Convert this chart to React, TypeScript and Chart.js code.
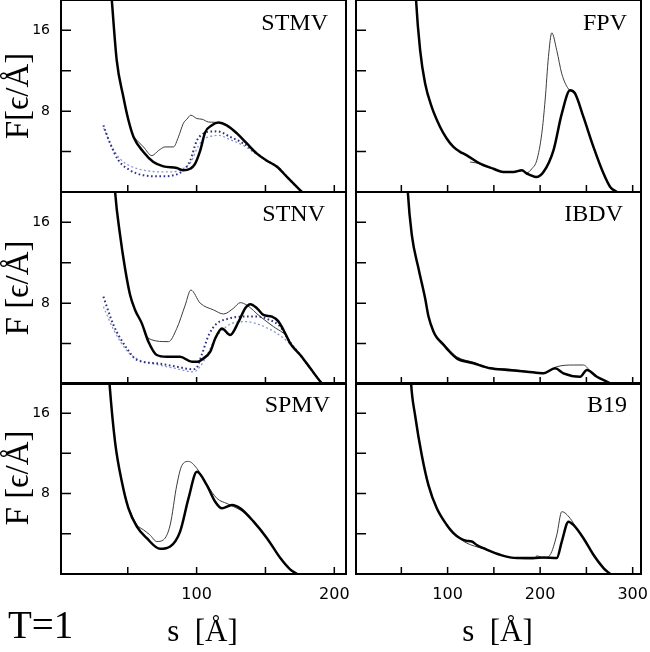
import React, { useEffect, useRef } from "react";
import { Chart, registerables } from "chart.js";

Chart.register(...registerables);

// ---------------- data (s in Å, F in ε/Å) ----------------
// STMV
const stmvThickS = [37, 38.4, 42, 46.8, 50.5, 54.2, 61.4, 68.6, 75.9, 85.6, 90.4, 95.3, 98.5, 102.6, 106.2, 111.1, 115.9, 121.9, 129.3, 136.5, 143.8, 151, 158.4, 165.6, 171.7, 176.5];
const stmvThickF = [21.5, 19, 13, 9.4, 7.1, 5.45, 3.96, 2.97, 2.54, 2.38, 2.15, 2.3, 2.7, 4.1, 5.9, 6.6, 6.87, 6.6, 5.8, 4.8, 3.8, 3.1, 2.5, 1.5, 0.66, 0];
const stmvThinS = [54.2, 61.4, 67.5, 72.3, 77.1, 83.2, 86.8, 90.4, 92.9, 95.8, 100.2, 104, 108.6, 113, 116];
const stmvThinF = [5.45, 4.46, 3.6, 4.1, 4.46, 4.46, 5.45, 6.8, 7.2, 7.6, 7.27, 7.2, 6.93, 6.9, 6.87];
const stmvNavyS = [32.3, 37.2, 43.2, 51.7, 61.4, 73.5, 83.2, 90.4, 95.3, 100.2, 104, 108, 115, 124.4, 134.1, 143.8, 151, 158.4, 165.6, 172];
const stmvNavyF = [6.6, 4.8, 3.14, 2.15, 1.65, 1.55, 1.65, 2.15, 3.1, 5.1, 5.7, 5.95, 6.0, 5.45, 4.8, 3.8, 3.1, 2.5, 1.5, 0.6];
const stmvLightS = [32.5, 38, 45, 53, 62, 72, 82, 90, 96, 101, 105, 110, 116, 124, 134, 144, 151, 158.4, 165.6, 172];
const stmvLightF = [6.3, 4.6, 3.2, 2.5, 2.15, 2.0, 2.0, 2.3, 3.0, 4.5, 5.2, 5.5, 5.6, 5.2, 4.6, 3.7, 3.1, 2.5, 1.5, 0.6];

// STNV
const stnvThickS = [39.5, 40.8, 44.4, 48, 51.7, 55.3, 60.2, 65, 71.1, 78.4, 88, 96.6, 100.2, 105, 109.9, 113.5, 118.4, 124.4, 130.5, 135.3, 139, 143.8, 148.6, 154.7, 159.5, 164.4, 168.1, 175.3, 182.6, 189.9, 191.5];
const stnvThickF = [22, 19, 14.75, 11.45, 8.8, 7.33, 6.0, 4.19, 2.87, 2.7, 2.7, 2.2, 2.2, 2.54, 3.2, 4.5, 5.5, 4.85, 6.17, 7.5, 7.9, 7.5, 6.83, 6.67, 6.17, 5.0, 4.0, 2.87, 1.55, 0.23, 0];
const stnvThinS = [61, 63.8, 67, 71.1, 75, 79.6, 85.6, 91.7, 95.8, 102.6, 112.3, 119.6, 126.8, 131.7, 136.5, 146.2, 155.9, 165.6, 168.1];
const stnvThinF = [5.6, 4.7, 4.4, 4.25, 4.2, 4.19, 5.5, 7.8, 9.3, 8.0, 7.33, 6.93, 7.5, 8.05, 7.8, 6.67, 5.67, 4.68, 4.1];
const stnvNavyS = [32.3, 39.6, 49.3, 56.6, 71.1, 85.6, 97.7, 100.5, 104, 109, 114, 124, 134, 145, 152, 160.8, 166.8, 175, 182.6, 189.9];
const stnvNavyF = [8.64, 5.84, 3.53, 2.38, 2.05, 1.71, 1.45, 1.7, 3.0, 4.9, 5.9, 6.5, 6.67, 6.67, 6.4, 5.67, 4.36, 2.9, 1.55, 0.23];
const stnvLightS = [32.3, 40, 50, 58, 72, 86, 97.7, 103, 108, 114, 120, 125.7, 136.5, 146.2, 158.4, 166, 175, 182.6, 189.9];
const stnvLightF = [7.65, 5.3, 3.2, 2.4, 1.9, 1.5, 1.2, 1.8, 3.0, 4.6, 5.5, 6.0, 6.17, 5.84, 5.0, 4.2, 2.9, 1.55, 0.23];

// SPMV
const spmvThickS = [35.5, 36.7, 40.8, 45.7, 50.5, 56.6, 63.8, 73.5, 80.8, 88, 94.1, 100.2, 107.4, 113.5, 118.4, 125.7, 131.7, 141.4, 151.1, 160.8, 168.1, 172.9];
const spmvThickF = [21.5, 19, 13.1, 9.17, 6.53, 4.71, 3.56, 2.5, 2.73, 4.22, 7.52, 10.16, 8.84, 7.19, 6.53, 6.86, 6.53, 5.21, 3.56, 1.58, 0.43, 0];
const spmvThinS = [50.5, 56.6, 61.4, 66, 71.1, 75.9, 80.8, 85.6, 89.3, 94.1, 100.2, 107.4, 114.9, 122.2, 131.7, 136];
const spmvThinF = [6.6, 4.9, 4.39, 3.9, 3.23, 3.4, 4.88, 8.84, 10.8, 11.2, 10.5, 8.9, 7.5, 7.0, 6.37, 6.0];

// FPV
const fpvThickS = [64.5, 65.9, 70.3, 75.7, 82.9, 91.9, 99, 106.3, 113, 120.7, 135.1, 149.5, 160.3, 171.2, 180.2, 185.6, 195.7, 203.6, 214.4, 223.4, 232.4, 237.8, 246.8, 257.6, 268.5, 275.7, 282.9];
const fpvThickF = [22, 19, 14.03, 10.73, 8.4, 6.44, 5.3, 4.46, 4.0, 3.63, 2.8, 2.3, 1.98, 1.98, 2.15, 1.82, 1.49, 1.98, 4.13, 7.76, 10.07, 9.74, 7.43, 4.46, 1.82, 0.5, 0];
const fpvThinS = [124.3, 135.1, 149.5, 160.3, 171.2, 180.2, 185.6, 191, 196.4, 201.8, 205.4, 209, 212.6, 218, 223.4, 230.6, 239];
const fpvThinF = [2.97, 2.8, 2.3, 1.98, 1.98, 2.1, 1.9, 2.3, 3.14, 5.8, 9.1, 13.4, 15.75, 14.0, 11.7, 10.2, 9.8];

// IBDV
const ibdvThickS = [56, 57, 61.3, 68.5, 75.7, 79.3, 84.7, 88.3, 95.5, 99.1, 109.9, 128, 145.9, 164, 185.6, 203.6, 216.2, 225.2, 243.2, 250.5, 261.3, 275.7, 277];
const ibdvThickF = [21, 19, 14.75, 11.45, 8.48, 6.7, 5.2, 4.6, 3.9, 3.5, 2.54, 2.05, 1.55, 1.39, 1.22, 1.06, 1.55, 1.06, 0.72, 1.39, 0.72, 0.07, 0];
const ibdvThinS = [86.5, 95.5, 109.9, 128, 145.9, 164, 185.6, 203.6, 218, 236, 246.8, 255, 261.3];
const ibdvThinF = [4.8, 4.0, 2.7, 2.15, 1.6, 1.5, 1.25, 1.1, 1.71, 1.88, 1.88, 1.2, 0.72];

// B19
const b19ThickS = [59.5, 60.5, 64.9, 72.1, 79.3, 88.3, 99.1, 106, 113.5, 120, 126.1, 132, 138.7, 156.8, 174.8, 192.8, 203.6, 218, 223.4, 230.6, 236, 246.8, 257.6, 268.5, 275.7];
const b19ThickF = [21, 19, 15.77, 11.81, 8.84, 6.53, 4.88, 4.1, 3.56, 3.3, 3.23, 2.85, 2.57, 1.91, 1.58, 1.58, 1.64, 1.58, 3.23, 5.21, 4.88, 3.56, 1.91, 0.59, 0];
const b19ThinS = [99.1, 106, 113.5, 120, 138.7, 156.8, 174.8, 192.8, 196.5, 203.6, 210.8, 218, 223.4, 232.4, 240];
const b19ThinF = [4.88, 4.1, 3.5, 3.1, 2.5, 1.91, 1.55, 1.5, 1.8, 1.6, 1.91, 3.89, 6.2, 5.54, 4.4];

// ticks
const yTicks = [4, 8, 12, 16];
const yTickLabels = [8, 16];
const leftXTicks = [50, 100, 150, 200];
const leftXTickLabels = [100, 200];
const rightXTicks = [50, 100, 150, 200, 250, 300];
const rightXTickLabels = [100, 200, 300];
const panelNames = ["STMV", "FPV", "STNV", "IBDV", "SPMV", "B19"];

// ---------------- layout ----------------
const W = 650;
const H = 652;
const YW = 40;
const XH = 30;
const COLS = [
  { left: 61, right: 346, min: 1.5, max: 208.5, ticks: leftXTicks, labels: leftXTickLabels },
  { left: 356, right: 641, min: 1, max: 309, ticks: rightXTicks, labels: rightXTickLabels },
];
const ROWS = [
  { top: 0, bottom: 192 },
  { top: 192, bottom: 384 },
  { top: 383, bottom: 574 },
];

type Kind = "thick" | "thin" | "navy" | "light";
type Curve = { s: number[]; f: number[]; kind: Kind };

const STYLE: Record<Kind, any> = {
  thick: { borderColor: "#000000", borderWidth: 2.5 },
  thin: { borderColor: "#3c3c3c", borderWidth: 1 },
  navy: { borderColor: "#2e2e85", borderWidth: 2, borderDash: [1.6, 2.6] },
  light: { borderColor: "#8798d0", borderWidth: 1.3, borderDash: [2, 2.4] },
};

const PANELS: { row: number; col: number; name: string; curves: Curve[] }[] = [
  {
    row: 0, col: 0, name: panelNames[0],
    curves: [
      { s: stmvThickS, f: stmvThickF, kind: "thick" },
      { s: stmvThinS, f: stmvThinF, kind: "thin" },
      { s: stmvNavyS, f: stmvNavyF, kind: "navy" },
      { s: stmvLightS, f: stmvLightF, kind: "light" },
    ],
  },
  {
    row: 0, col: 1, name: panelNames[1],
    curves: [
      { s: fpvThickS, f: fpvThickF, kind: "thick" },
      { s: fpvThinS, f: fpvThinF, kind: "thin" },
    ],
  },
  {
    row: 1, col: 0, name: panelNames[2],
    curves: [
      { s: stnvThickS, f: stnvThickF, kind: "thick" },
      { s: stnvThinS, f: stnvThinF, kind: "thin" },
      { s: stnvNavyS, f: stnvNavyF, kind: "navy" },
      { s: stnvLightS, f: stnvLightF, kind: "light" },
    ],
  },
  {
    row: 1, col: 1, name: panelNames[3],
    curves: [
      { s: ibdvThickS, f: ibdvThickF, kind: "thick" },
      { s: ibdvThinS, f: ibdvThinF, kind: "thin" },
    ],
  },
  {
    row: 2, col: 0, name: panelNames[4],
    curves: [
      { s: spmvThickS, f: spmvThickF, kind: "thick" },
      { s: spmvThinS, f: spmvThinF, kind: "thin" },
    ],
  },
  {
    row: 2, col: 1, name: panelNames[5],
    curves: [
      { s: b19ThickS, f: b19ThickF, kind: "thick" },
      { s: b19ThinS, f: b19ThinF, kind: "thin" },
    ],
  },
];

const framePlugin = {
  id: "frame",
  afterDatasetsDraw(chart: any) {
    const { ctx, chartArea: a, scales } = chart;
    ctx.save();
    ctx.strokeStyle = "#000";
    ctx.lineWidth = 1.5;
    ctx.beginPath();
    scales.x.ticks.forEach((t: any) => {
      const px = scales.x.getPixelForValue(t.value);
      ctx.moveTo(px, a.bottom);
      ctx.lineTo(px, a.bottom - 7);
    });
    scales.y.ticks.forEach((t: any) => {
      const py = scales.y.getPixelForValue(t.value);
      ctx.moveTo(a.left, py);
      ctx.lineTo(a.left + 10, py);
    });
    ctx.stroke();
    ctx.lineWidth = 2;
    ctx.strokeRect(a.left, a.top, a.right - a.left, a.bottom - a.top);
    ctx.restore();
  },
};

function PanelChart({ p }: { p: (typeof PANELS)[number] }) {
  const ref = useRef<HTMLCanvasElement>(null);
  useEffect(() => {
    const col = COLS[p.col];
    const row = ROWS[p.row];
    const showX = p.row === 2;
    const showY = p.col === 0;
    const chart = new Chart(ref.current as HTMLCanvasElement, {
      type: "line",
      data: {
        datasets: p.curves.map((c) => ({
          data: c.s.map((s, i) => ({ x: s, y: c.f[i] })),
          pointRadius: 0,
          fill: false,
          cubicInterpolationMode: "monotone",
          clip: 0,
          ...STYLE[c.kind],
        })),
      },
      options: {
        animation: false,
        responsive: false,
        events: [],
        layout: {
          padding: {
            left: col.left - YW,
            right: W - col.right,
            top: row.top,
            bottom: H - row.bottom - XH,
          },
        },
        plugins: { legend: { display: false }, tooltip: { enabled: false }, title: { display: false } },
        scales: {
          x: {
            type: "linear",
            min: col.min,
            max: col.max,
            grid: { display: false, drawTicks: false },
            border: { display: false },
            afterBuildTicks: (sc: any) => {
              sc.ticks = col.ticks.map((v) => ({ value: v }));
            },
            afterFit: (sc: any) => {
              sc.height = XH;
              sc.paddingLeft = 0;
              sc.paddingRight = 0;
            },
            ticks: {
              autoSkip: false,
              maxRotation: 0,
              padding: 11,
              color: "#000",
              font: { family: "DejaVu Sans", size: 16 },
              callback: (v: any) => (showX && col.labels.includes(Number(v)) ? String(v) : ""),
            },
          },
          y: {
            type: "linear",
            min: 0,
            max: 19,
            grid: { display: false, drawTicks: false },
            border: { display: false },
            afterBuildTicks: (sc: any) => {
              sc.ticks = yTicks.map((v) => ({ value: v }));
            },
            afterFit: (sc: any) => {
              sc.width = YW;
              sc.paddingTop = 0;
              sc.paddingBottom = 0;
            },
            ticks: {
              autoSkip: false,
              padding: 11,
              color: "#000",
              font: { family: "DejaVu Sans", size: 14 },
              callback: (v: any) => (showY && yTickLabels.includes(Number(v)) ? String(v) : ""),
            },
          },
        },
      },
      plugins: [framePlugin],
    } as any);
    return () => chart.destroy();
  }, []);
  return (
    <canvas
      ref={ref}
      width={W}
      height={H}
      style={{ position: "absolute", left: 0, top: 0, width: W, height: H }}
    />
  );
}

const SERIF = "'Liberation Serif', 'DejaVu Serif', serif";

function Txt({ text, x, base, size, align = "left" }: { text: string; x: number; base: number; size: number; align?: "left" | "right" | "center" }) {
  const style: any = {
    position: "absolute",
    top: base - 0.8375 * size,
    fontFamily: SERIF,
    fontSize: size,
    lineHeight: `${size}px`,
    whiteSpace: "pre",
    color: "#000",
  };
  if (align === "left") style.left = x;
  else if (align === "right") style.right = W - x;
  else {
    style.left = x;
    style.transform = "translateX(-50%)";
  }
  return <div style={style}>{text}</div>;
}

function VTxt({ text, baseX, cy, size }: { text: string; baseX: number; cy: number; size: number }) {
  return (
    <div
      style={{
        position: "absolute",
        left: baseX - 0.3375 * size,
        top: cy,
        transform: "translate(-50%, -50%) rotate(-90deg)",
        fontFamily: SERIF,
        fontSize: size,
        lineHeight: `${size}px`,
        whiteSpace: "pre",
        color: "#000",
      }}
    >
      {text}
    </div>
  );
}

const NAME_POS = [
  { x: 328, base: 30 },
  { x: 627, base: 30 },
  { x: 325, base: 221 },
  { x: 623, base: 221 },
  { x: 330, base: 412 },
  { x: 627, base: 412 },
];

export default function App() {
  return (
    <div style={{ position: "absolute", left: 0, top: 0, width: W, height: H, background: "#fff", overflow: "hidden" }}>
      {PANELS.map((p, i) => (
        <PanelChart key={i} p={p} />
      ))}
      {PANELS.map((p, i) => (
        <Txt key={"n" + i} text={p.name} x={NAME_POS[i].x} base={NAME_POS[i].base} size={24} align="right" />
      ))}
      <VTxt text="F[ϵ/Å]" baseX={28} cy={96} size={33} />
      <VTxt text="F [ϵ/Å]" baseX={28} cy={288} size={33} />
      <VTxt text="F [ϵ/Å]" baseX={28} cy={478} size={33} />
      <Txt text="s  [Å]" x={202.5} base={641} size={31} align="center" />
      <Txt text="s  [Å]" x={497.5} base={641} size={31} align="center" />
      <Txt text="T=1" x={8} base={638} size={39} />
    </div>
  );
}
